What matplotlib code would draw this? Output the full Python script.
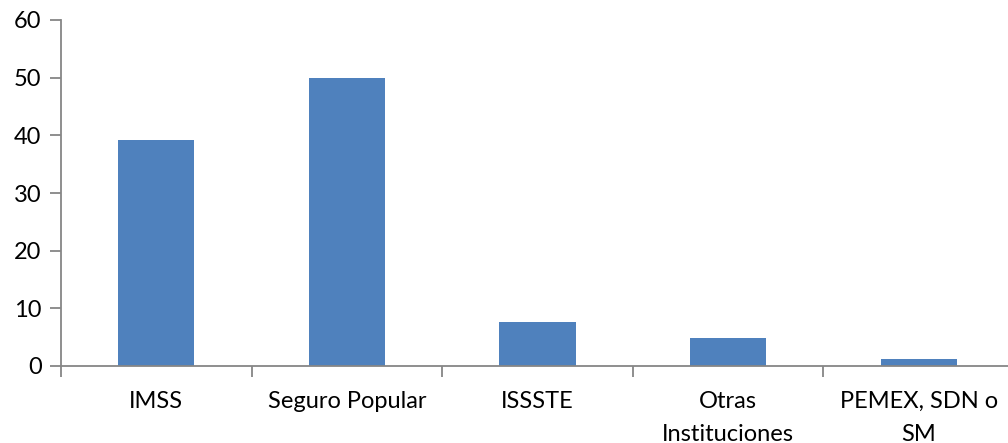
import matplotlib
matplotlib.use("Agg")
import matplotlib.pyplot as plt

categories = ["IMSS", "Seguro Popular", "ISSSTE", "Otras\nInstituciones", "PEMEX, SDN o\nSM"]
values = [39.2, 49.9, 7.7, 4.8, 1.2]
yticks = [0, 10, 20, 30, 40, 50, 60]

plt.rcParams['font.family'] = ['Lato', 'DejaVu Sans']

fig = plt.figure(figsize=(10.08, 4.43), dpi=100)
ax = fig.add_axes([61/1008, 77/443, 953/1008, 346/443])

x = list(range(len(categories)))
ax.bar(x, values, width=0.4, color="#4F81BD", zorder=2)

ax.set_xlim(-0.5, len(categories) - 0.5)
ax.set_ylim(0, 60)
ax.set_yticks(yticks)
ax.set_yticklabels([str(t) for t in yticks])

# category labels centred, ticks on category boundaries
ax.set_xticks(x)
ax.set_xticklabels(categories, linespacing=1.7)
ax.set_xticks([i - 0.5 for i in range(len(categories) + 1)], minor=True)
ax.tick_params(axis='x', which='major', length=0, pad=18, labelsize=17)
ax.tick_params(axis='x', which='minor', length=8, width=1.3, color="#868686", direction='out')
ax.tick_params(axis='y', length=8, width=1.3, color="#868686", direction='out', labelsize=17, pad=6)

for s in ['top', 'right']:
    ax.spines[s].set_visible(False)
for s in ['left', 'bottom']:
    ax.spines[s].set_color("#868686")
    ax.spines[s].set_linewidth(1.3)

fig.savefig("out.png", dpi=100)
